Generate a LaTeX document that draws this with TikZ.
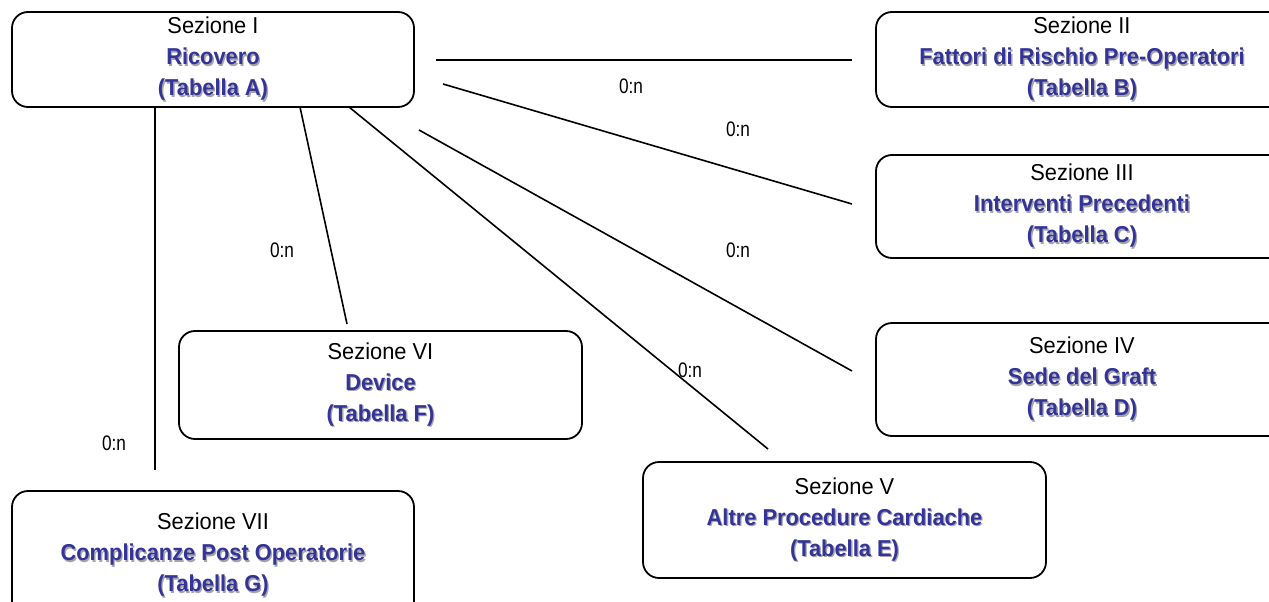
\documentclass[tikz,border=0pt]{standalone}
\usepackage{fontspec}
\setmainfont{Liberation Sans}[FakeStretch=0.95]
\newfontfamily\labelfont{Liberation Sans}[FakeStretch=0.82]
\definecolor{titleblue}{RGB}{51,51,153}
\definecolor{shadowgray}{RGB}{165,165,165}
% bold blue title with a soft grey drop shadow
\newcommand\bluetxt[1]{\makebox[0pt][l]{\kern1.3pt\raisebox{-1.3pt}{\color{shadowgray}\bfseries #1}}{\color{titleblue}\bfseries #1}}
\newcommand\sezbox[3]{Sezione #1\\\bluetxt{#2}\\\bluetxt{(Tabella #3)}}
\tikzset{
  tablebox/.style={draw=black, line width=1.8pt, rounded corners=16pt, inner sep=0pt,
    align=center, font=\fontsize{23}{31}\selectfont},
  link/.style={draw=black, line width=1.6pt},
  card/.style={font=\labelfont\fontsize{21}{21}\selectfont, inner sep=0pt}
}
\begin{document}
\begin{tikzpicture}[x=1pt,y=-1pt]
\useasboundingbox (0,0) rectangle (1269,602);
\clip (0,0) rectangle (1269,602);

% tables
\node[tablebox, minimum width=402pt, minimum height=95pt]  (A) at (213,59.5)   {\sezbox{I}{Ricovero}{A}};
\node[tablebox, minimum width=412pt, minimum height=95pt]  (B) at (1082,59.5)  {\sezbox{II}{Fattori di Rischio Pre-Operatori}{B}};
\node[tablebox, minimum width=412pt, minimum height=103pt] (C) at (1082,206.5) {\sezbox{III}{Interventi Precedenti}{C}};
\node[tablebox, minimum width=412pt, minimum height=113pt] (D) at (1082,379.5) {\sezbox{IV}{Sede del Graft}{D}};
\node[tablebox, minimum width=403pt, minimum height=116pt] (E) at (844.5,520)  {\sezbox{V}{Altre Procedure Cardiache}{E}};
\node[tablebox, minimum width=403pt, minimum height=108pt] (F) at (380.5,385)  {\sezbox{VI}{Device}{F}};
\node[tablebox, minimum width=402pt, minimum height=129pt] (G) at (213,555.5)  {\sezbox{VII}{Complicanze Post Operatorie}{G}};

% relationship end points
\coordinate (ab1) at (436,60);  \coordinate (ab2) at (852,60);
\coordinate (ac1) at (443,84);  \coordinate (ac2) at (852,204);
\coordinate (ad1) at (419,130); \coordinate (ad2) at (852,371);
\coordinate (ae1) at (349,107); \coordinate (ae2) at (768,449);
\coordinate (af1) at (300,107); \coordinate (af2) at (347,324);
\coordinate (ag1) at (155,107); \coordinate (ag2) at (155,470);

\draw[link] (ab1) -- (ab2);
\draw[link] (ac1) -- (ac2);
\draw[link] (ad1) -- (ad2);
\draw[link] (ae1) -- (ae2);
\draw[link] (af1) -- (af2);
\draw[link] (ag1) -- (ag2);

% cardinalities
\node[card] (cb) at (631,86)  {0:n};
\node[card] (cc) at (738,129) {0:n};
\node[card] (cd) at (738,250) {0:n};
\node[card] (ce) at (690,370) {0:n};
\node[card] (cf) at (282,250) {0:n};
\node[card] (cg) at (114,443) {0:n};
\end{tikzpicture}
\end{document}
